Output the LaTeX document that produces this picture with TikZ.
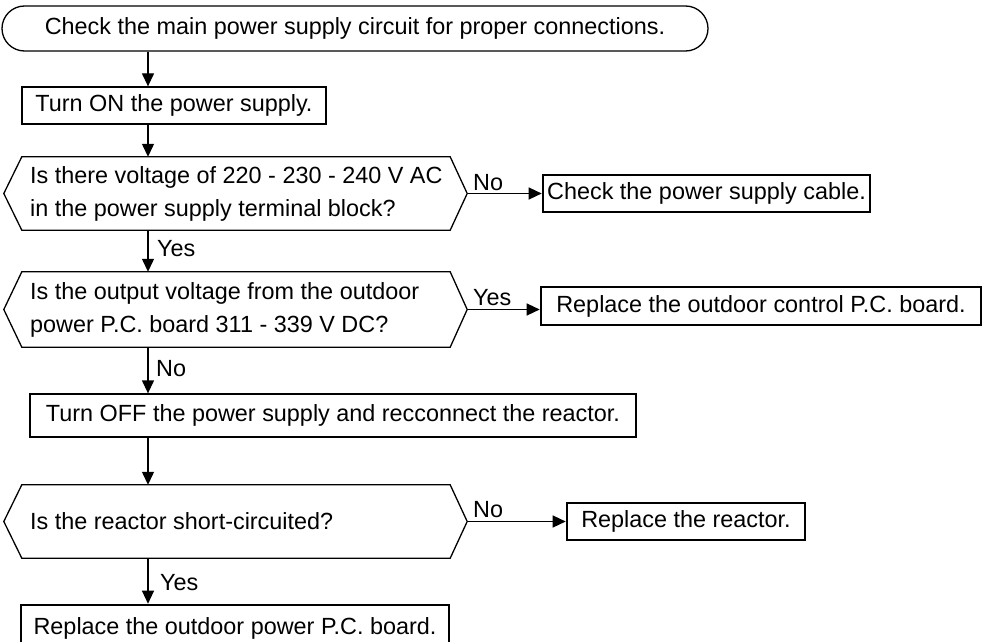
\documentclass[tikz,border=0pt]{standalone}
\usepackage{fontspec}
\setmainfont{Liberation Sans}
\usetikzlibrary{arrows.meta,shapes.misc}
\begin{document}
\begin{tikzpicture}[x=1pt,y=-1pt,
  every node/.style={font=\fontsize{23.4}{33}\selectfont, inner sep=0pt},
  box/.style={draw, line width=1.3pt, rectangle, align=center},
  endbox/.style={draw, line width=2.6pt, rectangle, align=center},
  hexa/.style={rectangle, minimum width=428pt},
  dtext/.style={anchor=west, align=left},
  lab/.style={anchor=base west},
  arr/.style={line width=1.3pt, -{Triangle[length=13pt,width=12pt]}},
  ln/.style={line width=1.3pt}]
\useasboundingbox (0,0) rectangle (983,642);
\coordinate (cx) at (148,0);
% start
\node[draw, line width=1.3pt, rounded rectangle, minimum width=706pt, minimum height=45pt] (start) at (355,28.5) {Check the main power supply circuit for proper connections.};
\node[box, minimum width=304pt, minimum height=37pt] (on) at (174,105.5) {Turn ON the power supply.};
% decision 1
\node[hexa, minimum height=73pt] (d1) at (236,193.5) {};
\draw[ln] (d1.north west) -- (d1.north east) -- ([xshift=17pt]d1.east) -- (d1.south east) -- (d1.south west) -- ([xshift=-18pt]d1.west) -- cycle;
\coordinate (d1r) at ([xshift=17pt]d1.east);
\node[dtext] (d1t) at (30,193.5) {Is there voltage of 220 - 230 - 240 V AC\\in the power supply terminal block?};
\node[endbox, minimum width=327pt, minimum height=37pt] (cable) at (706.5,193.5) {Check the power supply cable.};
% decision 2
\node[hexa, minimum height=75pt] (d2) at (236,309.5) {};
\draw[ln] (d2.north west) -- (d2.north east) -- ([xshift=17pt]d2.east) -- (d2.south east) -- (d2.south west) -- ([xshift=-18pt]d2.west) -- cycle;
\coordinate (d2r) at ([xshift=17pt]d2.east);
\node[dtext] (d2t) at (30,309.5) {Is the output voltage from the outdoor\\power P.C. board 311 - 339 V DC?};
\node[endbox, minimum width=440pt, minimum height=38pt] (ctrl) at (761,306) {Replace the outdoor control P.C. board.};
% turn off
\node[box, minimum width=606pt, minimum height=43pt] (off) at (333,415.5) {Turn OFF the power supply and recconnect the reactor.};
% decision 3
\node[hexa, minimum height=73pt] (d3) at (236,521.5) {};
\draw[ln] (d3.north west) -- (d3.north east) -- ([xshift=17pt]d3.east) -- (d3.south east) -- (d3.south west) -- ([xshift=-18pt]d3.west) -- cycle;
\coordinate (d3r) at ([xshift=17pt]d3.east);
\node[dtext] (d3t) at (30,521.5) {Is the reactor short-circuited?};
\node[endbox, minimum width=238pt, minimum height=37pt] (reactor) at (686,521.5) {Replace the reactor.};
\node[endbox, minimum width=428pt, minimum height=46pt] (pwr) at (235,628) {Replace the outdoor power P.C. board.};
% connectors
\draw[arr] (start.south -| cx) -- (on.north -| cx);
\draw[arr] (on.south -| cx) -- (d1.north -| cx);
\draw[arr] (d1r) -- (cable.west |- d1r);
\draw[arr] (d1.south -| cx) -- (d2.north -| cx);
\draw[arr] (d2r) -- (ctrl.west |- d2r);
\draw[arr] (d2.south -| cx) -- (off.north -| cx);
\draw[arr] (off.south -| cx) -- (d3.north -| cx);
\draw[arr] (d3r) -- (reactor.west |- d3r);
\draw[arr] (d3.south -| cx) -- (pwr.north -| cx);
% labels
\node[lab] (l1) at (473,190) {No};
\node[lab] (l2) at (157,256) {Yes};
\node[lab] (l3) at (473,305) {Yes};
\node[lab] (l4) at (156,376) {No};
\node[lab] (l5) at (473,517) {No};
\node[lab] (l6) at (160,590) {Yes};
\end{tikzpicture}
\end{document}
